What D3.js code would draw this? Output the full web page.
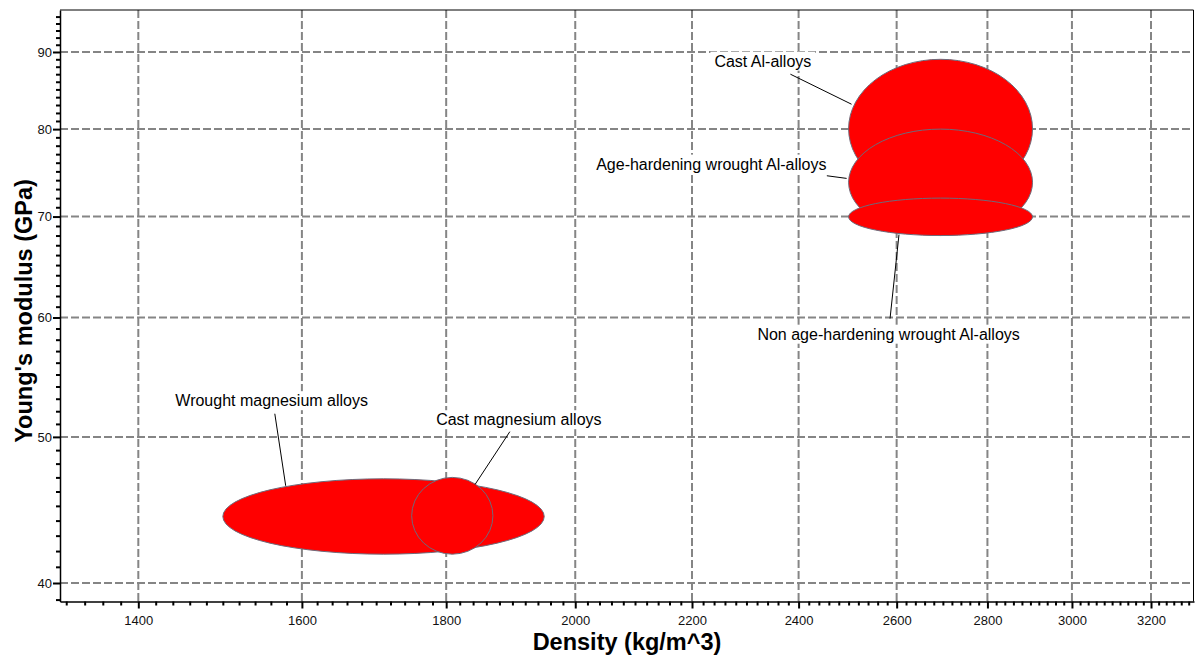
<!DOCTYPE html>
<html>
<head>
<meta charset="utf-8">
<script src="https://cdn.jsdelivr.net/npm/d3@7"></script>
<style>
  body { margin: 0; background: #fff; }
  text { font-family: Arial, "Liberation Sans", sans-serif; }
</style>
</head>
<body>
<svg id="chart" width="1195" height="657"></svg>
<script>
// Material families with their density (kg/m^3) and Young's modulus (GPa) ranges
const families = [
  "Wrought magnesium alloys",
  "Cast magnesium alloys",
  "Cast Al-alloys",
  "Age-hardening wrought Al-alloys",
  "Non age-hardening wrought Al-alloys"
];
const densityMin = [1500, 1750, 2500, 2500, 2500];
const densityMax = [1950, 1870, 2905, 2905, 2905];
const modulusMin = [41.8, 41.8, 72, 68, 68];
const modulusMax = [46.9, 47, 89, 80, 72];

// Label anchors and leader lines, in data units (density, modulus)
const labelDensity = [1561, 1910, 2331, 2235, 2583];
const labelModulus = [52.4, 50.9, 88.0, 75.2, 58.0];
const leaderFromDensity = [1565, 1896, 2384, 2456, 2586];
const leaderFromModulus = [51.8, 50.4, 87.0, 74.5, 59.9];
const leaderToDensity = [1579, 1843, 2506, 2496, 2605];
const leaderToModulus = [46.4, 46.5, 83.1, 74.2, 68.1];

// Axis ticks
const densityTicks = [1400, 1600, 1800, 2000, 2200, 2400, 2600, 2800, 3000, 3200];
const modulusTicks = [40, 50, 60, 70, 80, 90];
const densityExtent = [1313.3, 3314.3];
const modulusExtent = [38.886, 95.96];

(function draw() {
  const svg = d3.select("#chart");
  const pLeft = 60, pRight = 1194, pTop = 10, pBottom = 601.5;

  const x = d3.scaleLog().domain(densityExtent).range([pLeft, pRight]);
  const y = d3.scaleLog().domain(modulusExtent).range([pBottom, pTop]);

  svg.append("rect").attr("width", 1195).attr("height", 657).attr("fill", "#fff");

  // Dashed grid
  const grid = svg.append("g").attr("stroke", "#858585").attr("stroke-width", 2)
    .attr("stroke-dasharray", "8,3").attr("fill", "none");
  grid.selectAll("line.v").data(densityTicks).join("line").attr("class", "v")
    .attr("x1", d => x(d)).attr("x2", d => x(d)).attr("y1", pTop).attr("y2", pBottom);
  grid.selectAll("line.h").data(modulusTicks).join("line").attr("class", "h")
    .attr("x1", pLeft).attr("x2", pRight).attr("y1", d => y(d)).attr("y2", d => y(d));

  // Property envelopes (ellipses in log-log space)
  const idx = d3.range(families.length);
  svg.append("g").selectAll("ellipse").data(idx).join("ellipse")
    .attr("cx", i => (x(densityMin[i]) + x(densityMax[i])) / 2)
    .attr("cy", i => (y(modulusMin[i]) + y(modulusMax[i])) / 2)
    .attr("rx", i => (x(densityMax[i]) - x(densityMin[i])) / 2)
    .attr("ry", i => (y(modulusMin[i]) - y(modulusMax[i])) / 2)
    .attr("fill", "#ff0000")
    .attr("stroke", "#6e6a7a")
    .attr("stroke-width", 1);

  // Leader lines
  svg.append("g").selectAll("line").data(idx).join("line")
    .attr("x1", i => x(leaderFromDensity[i])).attr("y1", i => y(leaderFromModulus[i]))
    .attr("x2", i => x(leaderToDensity[i])).attr("y2", i => y(leaderToModulus[i]))
    .attr("stroke", "#000").attr("stroke-width", 1);

  // Labels with white backing
  svg.append("g").selectAll("g").data(idx).join("g").each(function (i) {
    const g = d3.select(this);
    const t = g.append("text")
      .attr("x", x(labelDensity[i])).attr("y", y(labelModulus[i]))
      .attr("text-anchor", "middle").attr("font-size", 16).attr("fill", "#000")
      .text(families[i]);
    const b = t.node().getBBox();
    g.insert("rect", "text")
      .attr("x", b.x - 4).attr("y", b.y - 1)
      .attr("width", b.width + 8).attr("height", b.height + 2)
      .attr("fill", "#fff");
  });

  // Axes with major and minor ticks
  const minorDensity = d3.range(1320, 3301, 20).filter(d => d % 200 !== 0);
  const minorModulus = d3.range(39, 96).filter(d => d % 10 !== 0);

  svg.append("g").attr("transform", `translate(0,${pBottom})`)
    .call(d3.axisBottom(x).tickValues(densityTicks).tickFormat(d3.format("d"))
      .tickSize(7).tickSizeOuter(0).tickPadding(7));
  svg.append("g").attr("transform", `translate(0,${pBottom})`)
    .call(d3.axisBottom(x).tickValues(minorDensity).tickFormat("").tickSize(4).tickSizeOuter(0))
    .call(g => g.select(".domain").remove());

  svg.append("g").attr("transform", `translate(${pLeft},0)`)
    .call(d3.axisLeft(y).tickValues(modulusTicks).tickFormat(d3.format("d"))
      .tickSize(7).tickSizeOuter(0).tickPadding(1));
  svg.append("g").attr("transform", `translate(${pLeft},0)`)
    .call(d3.axisLeft(y).tickValues(minorModulus).tickFormat("").tickSize(4).tickSizeOuter(0))
    .call(g => g.select(".domain").remove());

  svg.selectAll(".tick line").attr("stroke", "#000").attr("stroke-width", 2);
  svg.selectAll(".domain").attr("stroke", "#000").attr("stroke-width", 1.5);
  svg.selectAll(".tick text").attr("font-size", 13).attr("fill", "#111")
    .attr("font-family", "Arial, 'Liberation Sans', sans-serif");

  // Frame top and right
  svg.append("line").attr("x1", pLeft).attr("x2", pRight - 0.5).attr("y1", pTop).attr("y2", pTop)
    .attr("stroke", "#000").attr("stroke-width", 1);
  svg.append("line").attr("x1", pRight - 0.5).attr("x2", pRight - 0.5).attr("y1", pTop).attr("y2", pBottom)
    .attr("stroke", "#000").attr("stroke-width", 1);

  // Axis titles
  svg.append("text").attr("x", (pLeft + pRight) / 2).attr("y", 650)
    .attr("text-anchor", "middle").attr("font-size", 23.5).attr("font-weight", "bold")
    .text("Density (kg/m^3)");
  svg.append("text").attr("transform", "translate(32,311) rotate(-90)")
    .attr("text-anchor", "middle").attr("font-size", 23.5).attr("font-weight", "bold")
    .text("Young's modulus (GPa)");
})();
</script>
</body>
</html>
